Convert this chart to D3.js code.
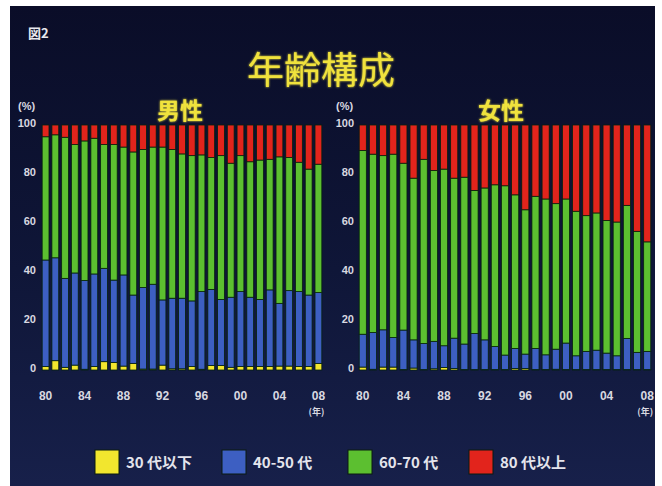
<!DOCTYPE html>
<html><head><meta charset="utf-8">
<script src="https://cdn.jsdelivr.net/npm/d3@7"></script>
<style>
html,body{margin:0;padding:0;background:#ffffff;}
svg{display:block;}
</style></head>
<body>
<svg id="c" width="662" height="486"></svg>
<script>
const years = [1980,1981,1982,1983,1984,1985,1986,1987,1988,1989,1990,1991,1992,1993,1994,1995,1996,1997,1998,1999,2000,2001,2002,2003,2004,2005,2006,2007,2008];
const tickYears = [1980,1984,1988,1992,1996,2000,2004,2008];
const tickLabels = ["80","84","88","92","96","00","04","08"];
const yTicks = [0,20,40,60,80,100];
const seriesNames = ["30 代以下","40-50 代","60-70 代","80 代以上"];
const seriesColors = ["#f2e62e","#3d5fc2","#5cbf30","#e2241c"];

// 男性 (%)
const maleU30  = [1.4,3.8,1.1,2.0,0.3,1.4,3.4,3.1,1.6,2.7,0.4,0.4,2.0,0.5,0.5,1.4,0.3,1.8,1.8,1.1,1.4,1.4,1.4,1.4,1.6,1.6,1.4,1.4,2.7];
const male4050 = [43.5,42.0,36.3,37.6,36.2,37.8,38.1,33.6,37.2,27.9,33.3,34.6,26.6,28.8,28.8,26.8,31.7,31.1,27.0,28.6,30.6,28.3,27.4,31.3,25.6,30.8,30.6,29.2,28.9];
const male6070 = [50.3,50.2,57.6,52.4,57.0,55.4,50.5,55.3,52.2,58.4,56.3,56.0,62.4,60.7,58.9,59.3,55.8,53.8,58.7,54.7,55.5,55.3,56.9,53.3,59.8,54.3,52.8,51.4,52.4];
const male80   = [4.8,4.0,5.0,8.0,6.5,5.4,8.0,8.0,9.0,11.0,10.0,9.0,9.0,10.0,11.8,12.5,12.2,13.3,12.5,15.6,12.5,15.0,14.3,14.0,13.0,13.3,15.2,18.0,16.0];

// 女性 (%)
const femaleU30  = [1.2,0.3,1.2,1.2,0.2,0.8,0.2,0.5,1.0,0.6,0.2,0.2,0.2,0.2,0.2,0.6,0.6,0.2,0.2,0.3,0.2,0.2,0.2,0.2,0.2,0.2,0.2,0.2,0.2];
const female4050 = [13.4,15.0,15.2,12.1,16.1,11.5,10.6,11.2,8.9,12.4,10.4,14.7,12.1,9.4,5.9,8.2,5.9,8.6,6.0,8.2,10.8,5.6,7.4,7.9,6.7,5.6,12.7,7.0,7.4];
const female6070 = [75.0,72.8,71.1,74.8,68.1,66.0,75.2,69.7,72.1,65.3,68.1,58.4,62.0,66.0,69.1,62.7,58.9,62.1,63.6,59.4,58.8,59.0,55.4,56.0,54.1,54.6,54.3,49.4,44.7];
const female80   = [10.4,11.9,12.5,11.9,15.6,21.7,14.0,18.6,18.0,21.7,21.3,26.7,25.7,24.4,24.8,28.5,34.6,29.1,30.2,32.1,30.2,35.2,37.0,35.9,39.0,39.6,32.8,43.4,47.7];

const svg = d3.select("#c");
const defs = svg.append("defs");
const grad = defs.append("linearGradient").attr("id","bg").attr("x1",0).attr("y1",0).attr("x2",0).attr("y2",1);
grad.append("stop").attr("offset","0%").attr("stop-color","#0a0d28");
grad.append("stop").attr("offset","55%").attr("stop-color","#0f1638");
grad.append("stop").attr("offset","100%").attr("stop-color","#17204a");
const glow = defs.append("filter").attr("id","glow").attr("x","-10%").attr("y","-10%").attr("width","120%").attr("height","120%");
glow.append("feGaussianBlur").attr("stdDeviation",1.0).attr("result","b");
const fm = glow.append("feMerge");
fm.append("feMergeNode").attr("in","b");
fm.append("feMergeNode").attr("in","SourceGraphic");

svg.append("rect").attr("x",10).attr("y",6).attr("width",645).attr("height",480).attr("fill","url(#bg)");

const jp = "'Noto Sans CJK JP','Noto Sans',sans-serif";
const num = "'Liberation Sans',Arial,sans-serif";

svg.append("text").attr("x",28).attr("y",38).attr("fill","#e8e8ee")
  .attr("font-family",jp).attr("font-size",13).attr("font-weight","bold").text("図2");
svg.append("text").attr("x",321).attr("y",84).attr("text-anchor","middle").attr("fill","#f0e23c")
  .attr("filter","url(#glow)").attr("font-family",jp).attr("font-size",37).attr("font-weight","400").text("年齢構成");

function panel(x0, x1, title, u30, a4050, a6070, a80, ylab, yLabX) {
  const rows = years.map((y,i)=>({year:y, s0:u30[i], s1:a4050[i], s2:a6070[i], s3:a80[i]}));
  const stack = d3.stack().keys(["s0","s1","s2","s3"])(rows);
  const x = d3.scaleBand().domain(years).range([x0,x1]).paddingInner(0.3).paddingOuter(0.12);
  const y = d3.scaleLinear().domain([0,100]).range([370,125]);
  const g = svg.append("g");
  stack.forEach((layer,k)=>{
    g.selectAll(null).data(layer).join("rect")
      .attr("x",d=>x(d.data.year)).attr("width",x.bandwidth())
      .attr("y",d=>y(d[1])).attr("height",d=>Math.max(0,y(d[0])-y(d[1])))
      .attr("fill",seriesColors[k]).attr("stroke","#07220d").attr("stroke-width",0.8);
  });
  // y axis labels
  const ya = d3.axisLeft(y).tickValues(yTicks).tickSize(0).tickPadding(0);
  const yg = svg.append("g").attr("transform",`translate(${yLabX},-2)`).call(ya);
  yg.select(".domain").remove();
  yg.selectAll("text").attr("fill","#d8d8e0").attr("font-family",num).attr("font-size",11).attr("font-weight","bold");
  // x axis labels
  const xa = d3.axisBottom(x).tickValues(tickYears).tickSize(0).tickPadding(0)
    .tickFormat(d=>tickLabels[tickYears.indexOf(d)]);
  const xg = svg.append("g").attr("transform","translate(0,391)").call(xa);
  xg.select(".domain").remove();
  xg.selectAll("text").attr("fill","#d8d8e0").attr("font-family",num).attr("font-size",12).attr("font-weight","bold");
  svg.append("text").attr("x",x(2008)+x.bandwidth()/2-2).attr("y",415).attr("text-anchor","middle")
    .attr("fill","#d8d8e0").attr("font-family",jp).attr("font-size",9).attr("font-weight","bold").text("(年)");
  svg.append("text").attr("x",yLabX-18).attr("y",110).attr("fill","#d8d8e0")
    .attr("font-family",num).attr("font-size",11).attr("font-weight","bold").text("(%)");
  svg.append("text").attr("x",ylab).attr("y",119).attr("text-anchor","middle").attr("fill","#f0e23c")
    .attr("filter","url(#glow)").attr("font-family",jp).attr("font-size",23).attr("font-weight","bold").text(title);
}
panel(41, 323, "男性", maleU30, male4050, male6070, male80, 180, 36);
panel(358, 652, "女性", femaleU30, female4050, female6070, female80, 501, 354);

// legend
const legX = [95, 222, 348, 469];
const lg = svg.append("g");
seriesNames.forEach((n,i)=>{
  lg.append("rect").attr("x",legX[i]).attr("y",450).attr("width",24).attr("height",24)
    .attr("fill",seriesColors[i]).attr("stroke","#0b1a10").attr("stroke-width",1);
  lg.append("text").attr("x",legX[i]+31).attr("y",468).attr("fill","#e4e4ec")
    .attr("font-family",jp).attr("font-size",15).attr("font-weight","bold").text(n);
});
</script>
</body></html>
